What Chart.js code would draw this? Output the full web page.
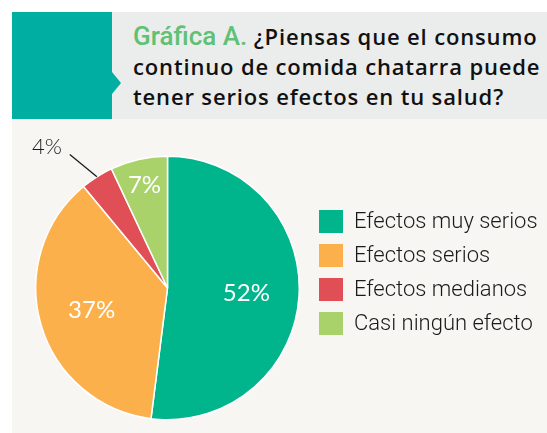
<!DOCTYPE html>
<html>
<head>
<meta charset="utf-8">
<script src="https://cdn.jsdelivr.net/npm/chart.js"></script>
<style>
  body { margin: 0; width: 547px; height: 433px; background: #fff; position: relative; overflow: hidden; }
  #panel { position: absolute; left: 12px; top: 119px; width: 535px; height: 314px; background: #f7f6f3; }
  #band { position: absolute; left: 112px; top: 12px; width: 435px; height: 107px; background: #ebedec; }
  #tab { position: absolute; left: 12px; top: 12px; width: 100px; height: 107px; background: #00aea2; }
  #tab:after { content: ""; position: absolute; left: 100px; top: 60px; border-left: 9px solid #00aea2; border-top: 11px solid transparent; border-bottom: 11px solid transparent; }
  #title { position: absolute; left: 133px; top: 21px; font-family: "Open Sans", sans-serif; font-weight: 600; font-size: 22px; line-height: 30px; letter-spacing: 0.85px; color: #111; white-space: nowrap; }
  #title span { font-family: Roboto, sans-serif; font-weight: 500; font-size: 26px; letter-spacing: 0; color: #60c074; }
  #chart { position: absolute; left: 0; top: 0; }
</style>
</head>
<body>
<div id="panel"></div>
<div id="band"></div>
<div id="tab"></div>
<div id="title"><span>Gráfica A.</span> ¿Piensas que el consumo<br>continuo de comida chatarra puede<br>tener serios efectos en tu salud?</div>
<canvas id="chart" width="547" height="433"></canvas>
<script>
const categories = ["Efectos muy serios", "Efectos serios", "Efectos medianos", "Casi ningún efecto"];
const percentages = [52, 37, 4, 7];
const sliceColors = ["#00b48c", "#fbb04b", "#e04f56", "#a9d26a"];

// percentage labels: inside the slice, or outside with a leader line for tiny slices
const sliceLabels = {
  id: "sliceLabels",
  afterDatasetsDraw(chart) {
    const ctx = chart.ctx;
    const values = chart.data.datasets[0].data;
    chart.getDatasetMeta(0).data.forEach((arc, i) => {
      const { x, y, startAngle, endAngle, outerRadius } = arc.getProps(
        ["x", "y", "startAngle", "endAngle", "outerRadius"], true);
      const mid = (startAngle + endAngle) / 2;
      const text = values[i] + "%";
      ctx.save();
      ctx.font = "24px Lato";
      ctx.textBaseline = "middle";
      if (values[i] < 5) {
        const x0 = x + Math.cos(mid) * outerRadius;
        const y0 = y + Math.sin(mid) * outerRadius;
        const dir = mid - 0.32;
        const x1 = x0 + Math.cos(dir) * 35;
        const y1 = y0 + Math.sin(dir) * 35;
        ctx.strokeStyle = "#1a1a1a";
        ctx.lineWidth = 1.3;
        ctx.beginPath();
        ctx.moveTo(x0, y0);
        ctx.lineTo(x1, y1);
        ctx.stroke();
        ctx.fillStyle = "#1a1a1a";
        ctx.textAlign = "right";
        ctx.font = "300 22px Lato";
        ctx.fillText(text, x1 - 8, y1 - 8);
      } else {
        const r = outerRadius * (values[i] < 10 ? 0.8 : 0.6);
        ctx.fillStyle = "#ffffff";
        ctx.textAlign = "center";
        ctx.fillText(text, x + Math.cos(mid) * r, y + Math.sin(mid) * r);
      }
      ctx.restore();
    });
  }
};

// square-swatch legend to the right of the pie
const sideLegend = {
  id: "sideLegend",
  afterDraw(chart) {
    const ctx = chart.ctx;
    const colors = chart.data.datasets[0].backgroundColor;
    ctx.save();
    ctx.font = "300 22px Roboto";
    ctx.textBaseline = "middle";
    ctx.textAlign = "left";
    chart.data.labels.forEach((label, i) => {
      const top = 210 + i * 34;
      ctx.fillStyle = colors[i];
      ctx.fillRect(319, top, 24, 23);
      ctx.fillStyle = "#1a1a1a";
      ctx.fillText(label, 354, top + 12);
    });
    ctx.restore();
  }
};

new Chart(document.getElementById("chart"), {
  type: "pie",
  data: {
    labels: categories,
    datasets: [
      {
        data: percentages,
        backgroundColor: sliceColors,
        borderColor: "#ffffff",
        borderWidth: 1.5,
      },
    ],
  },
  options: {
    responsive: false,
    animation: false,
    layout: { padding: { left: 35, right: 247, top: 155, bottom: 12 } },
    plugins: {
      legend: { display: false },
      tooltip: { enabled: false },
    },
  },
  plugins: [sliceLabels, sideLegend],
});
</script>
</body>
</html>
